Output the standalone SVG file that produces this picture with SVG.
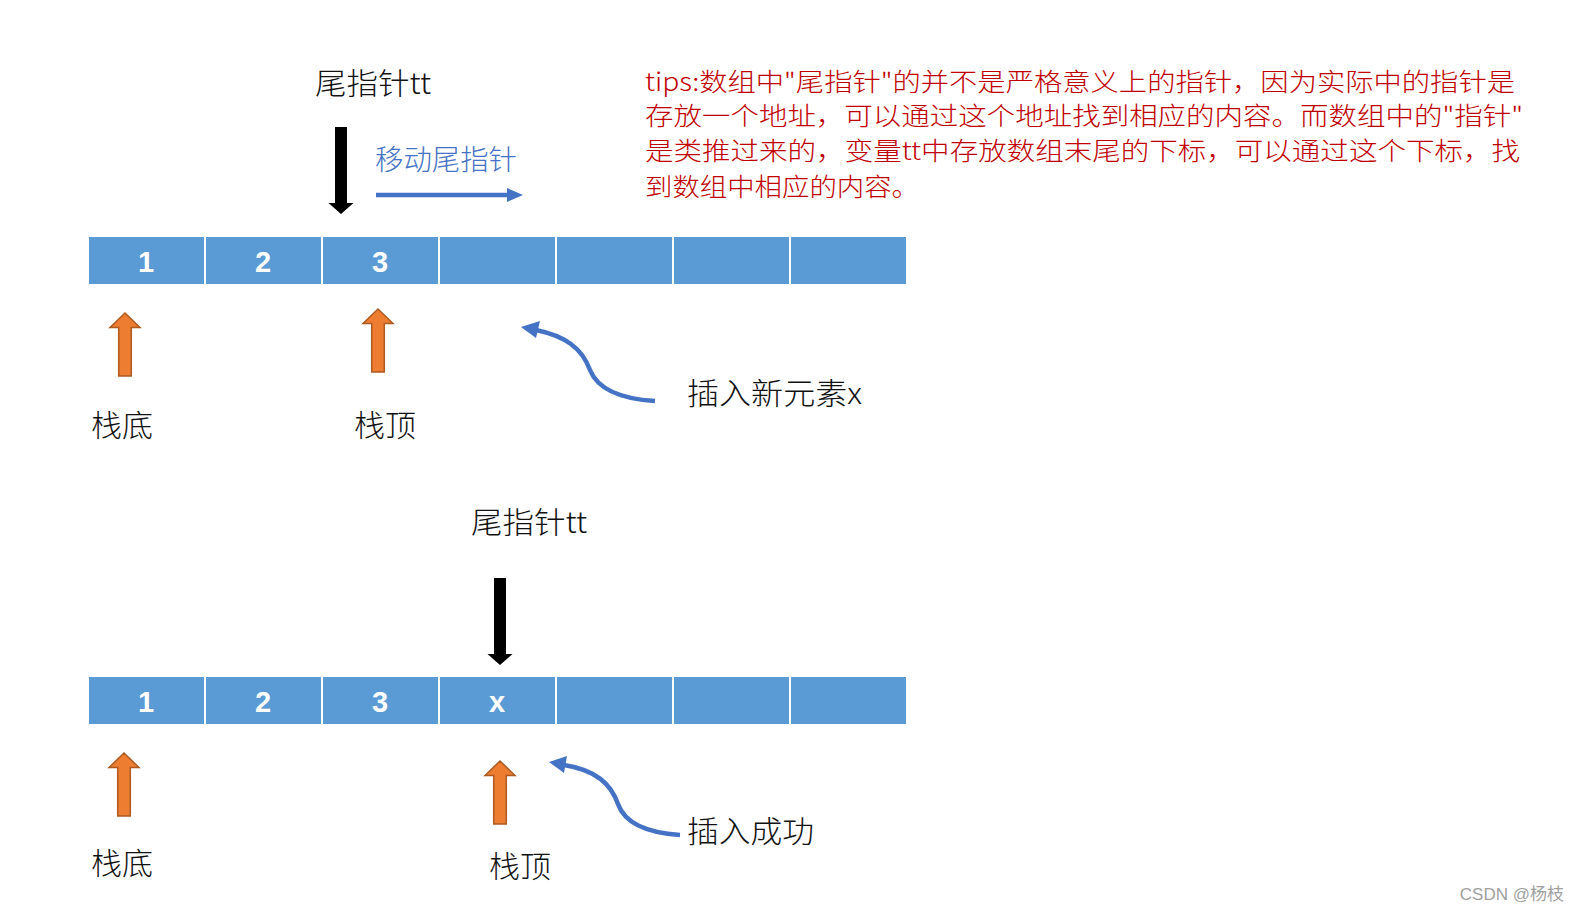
<svg xmlns="http://www.w3.org/2000/svg" xmlns:xlink="http://www.w3.org/1999/xlink" width="1579" height="913" viewBox="0 0 1579 913">
<style>
.cell{fill:#5B9BD5;stroke:#ffffff;stroke-width:2}
.num{font-family:"Liberation Sans",Arial,sans-serif;font-weight:bold;font-size:29px;fill:#ffffff;text-anchor:middle;dominant-baseline:central}
.lbl{font-family:"Noto Sans CJK SC","Noto Sans",sans-serif;font-weight:300;font-size:30px;fill:#111111;dominant-baseline:central}
.tip{font-family:"Noto Sans CJK SC","Noto Sans",sans-serif;font-weight:300;font-size:25px;fill:#C00000;dominant-baseline:central}
.blue{fill:none;stroke:#4472C4;stroke-width:4.5}
</style>
<defs>
<path id="orange" d="M0,0 L15,14.5 L6.3,14.5 L6.3,63 L-6.3,63 L-6.3,14.5 L-15,14.5 Z" fill="#ED7D31" stroke="#AE5A21" stroke-width="1.5"/>
<path id="black" d="M-6,0 L6,0 L6,76 L12.5,76 L0,87 L-12.5,76 L-6,76 Z" fill="#000000"/>
</defs>
<rect width="1579" height="913" fill="#ffffff"/>

<g id="array1">
<rect class="cell" x="88" y="236" width="117" height="49"/>
<rect class="cell" x="205" y="236" width="117" height="49"/>
<rect class="cell" x="322" y="236" width="117" height="49"/>
<rect class="cell" x="439" y="236" width="117" height="49"/>
<rect class="cell" x="556" y="236" width="117" height="49"/>
<rect class="cell" x="673" y="236" width="117" height="49"/>
<rect class="cell" x="790" y="236" width="117" height="49"/>
<text class="num" x="146" y="262">1</text>
<text class="num" x="263" y="262">2</text>
<text class="num" x="380" y="262">3</text>
</g>

<g id="array2">
<rect class="cell" x="88" y="676" width="117" height="49"/>
<rect class="cell" x="205" y="676" width="117" height="49"/>
<rect class="cell" x="322" y="676" width="117" height="49"/>
<rect class="cell" x="439" y="676" width="117" height="49"/>
<rect class="cell" x="556" y="676" width="117" height="49"/>
<rect class="cell" x="673" y="676" width="117" height="49"/>
<rect class="cell" x="790" y="676" width="117" height="49"/>
<text class="num" x="146" y="702">1</text>
<text class="num" x="263" y="702">2</text>
<text class="num" x="380" y="702">3</text>
<text class="num" x="497" y="702">x</text>
</g>

<g id="tail1">
<text class="lbl" x="315" y="81" textLength="116" lengthAdjust="spacingAndGlyphs">尾指针tt</text>
<use xlink:href="#black" x="341" y="127"/>
</g>
<g id="move">
<text class="lbl" x="375" y="158" style="fill:#4472C4;font-size:28px" textLength="142" lengthAdjust="spacingAndGlyphs">移动尾指针</text>
</g>

<g id="tips">
<text class="tip" x="645" y="80" textLength="870" lengthAdjust="spacingAndGlyphs">tips:数组中"尾指针"的并不是严格意义上的指针，因为实际中的指针是</text>
<text class="tip" x="645" y="114" textLength="878" lengthAdjust="spacingAndGlyphs">存放一个地址，可以通过这个地址找到相应的内容。而数组中的"指针"</text>
<text class="tip" x="645" y="149" textLength="875" lengthAdjust="spacingAndGlyphs">是类推过来的，变量tt中存放数组末尾的下标，可以通过这个下标，找</text>
<text class="tip" x="645" y="185" textLength="274" lengthAdjust="spacingAndGlyphs">到数组中相应的内容。</text>
</g>

<g id="bottom1">
<use xlink:href="#orange" x="125" y="313"/>
<text class="lbl" x="91" y="423" textLength="62" lengthAdjust="spacingAndGlyphs">栈底</text>
</g>
<g id="top1">
<use xlink:href="#orange" x="378" y="309"/>
<text class="lbl" x="354" y="423" textLength="62" lengthAdjust="spacingAndGlyphs">栈顶</text>
</g>
<g id="insert">
<text class="lbl" x="687" y="391" textLength="175" lengthAdjust="spacingAndGlyphs">插入新元素x</text>
</g>

<g id="tail2">
<text class="lbl" x="471" y="520" textLength="116" lengthAdjust="spacingAndGlyphs">尾指针tt</text>
<use xlink:href="#black" x="500" y="578"/>
</g>
<g id="bottom2">
<use xlink:href="#orange" x="124" y="753"/>
<text class="lbl" x="91" y="861" textLength="62" lengthAdjust="spacingAndGlyphs">栈底</text>
</g>
<g id="top2">
<use xlink:href="#orange" x="500" y="761"/>
<text class="lbl" x="489" y="864" textLength="62" lengthAdjust="spacingAndGlyphs">栈顶</text>
</g>
<g id="success">
<text class="lbl" x="687" y="829" textLength="127" lengthAdjust="spacingAndGlyphs">插入成功</text>
</g>

<g id="connectors">
<line class="blue" x1="376" y1="195" x2="509" y2="195"/>
<polygon points="523,195 507,188 507,202" fill="#4472C4"/>
<path class="blue" d="M655,401 C622,399 598,390 590,370 C582,348 565,336 536,330"/>
<polygon points="521,327 540,321 536,338" fill="#4472C4"/>
<path class="blue" d="M680,835 C650,833 625,824 618,804 C611,784 596,770 564,765"/>
<polygon points="549,762 567,756 564,773" fill="#4472C4"/>
</g>

<text x="1564" y="894" font-family="'Liberation Sans','Noto Sans CJK SC',sans-serif" font-size="17" fill="#A0A0A0" text-anchor="end" dominant-baseline="central">CSDN @杨枝</text>
</svg>
